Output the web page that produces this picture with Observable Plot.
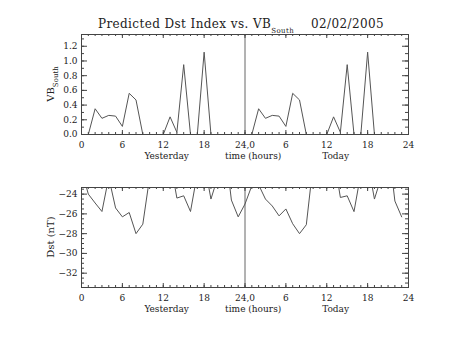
<!DOCTYPE html>
<html><head><meta charset="utf-8">
<script src="https://cdn.jsdelivr.net/npm/d3@7"></script>
<script src="https://cdn.jsdelivr.net/npm/@observablehq/plot@0.6"></script>
<style>
body{margin:0;background:#fff}
#chart{position:relative;width:453px;height:340px;overflow:hidden}
#chart svg{position:absolute;left:0}
</style></head><body><div id="chart"></div>
<script>
// ---- data ----
const hours = [0,1,2,3,4,5,6,7,8,9,10,11,12,13,14,15,16,17,18,19,20,21,22,23];
const vbYesterday = [0,0,0.35,0.22,0.26,0.25,0.11,0.56,0.47,0,0,0,0,0.24,0.03,0.95,0,0,1.12,0,0,0,0,0];
const vbToday     = [0,0,0.35,0.22,0.26,0.25,0.11,0.56,0.47,0,0,0,0,0.24,0.03,0.95,0,0,1.12,0,0,0,0,0];
const dstYesterday = [-21.5,-24.0,-24.9,-25.76,-22.3,-25.4,-26.3,-25.86,-28.0,-27.04,-22.3,-21.0,-21.0,-20.5,-24.4,-24.17,-25.76,-21.9,-20.7,-24.5,-22.3,-18.8,-24.6,-26.3];
const dstToday     = [-25.0,-23.15,-23.05,-24.5,-25.2,-26.2,-25.5,-27.0,-28.0,-27.1,-21.0,-21.0,-21.0,-20.1,-24.34,-24.17,-25.77,-21.9,-20.7,-24.5,-22.3,-18.8,-24.7,-26.3];
const xTickValues = [0,6,12,18,24,30,36,42,48];
const xTickLabels = ["0","6","12","18","24,0","6","12","18","24"];
const xTitleParts = ["Yesterday","time (hours)","Today"];
const xTitleAt = [12.5,25.2,37.3];
const vbTicks = [0,0.2,0.4,0.6,0.8,1.0,1.2];
const dstTicks = [-24,-26,-28,-30,-32];
const titleMain = "Predicted Dst Index vs. VB";
const titleSub = "South";
const titleDate = "02/02/2005";

const rows = [];
hours.forEach((h,i) => rows.push({t:h, vb:vbYesterday[i], dst:dstYesterday[i]}));
hours.forEach((h,i) => rows.push({t:h+24, vb:vbToday[i], dst:dstToday[i]}));

const FONT = "DejaVu Serif";
const W = 453, ML = 81, MR = 45;
const xMinor = d3.range(0, 49, 1);
const xMajor = xTickValues;
const lab = new Map(xTickValues.map((v,i)=>[v,xTickLabels[i]]));
const INK = "#222";

function ticksMarks(plotH, yMajor, yMinor) {
  const xMj = 4, xMn = 2, yMj = 6, yMn = 3;
  const plotW = W - ML - MR;
  return [
    Plot.tickX(xMinor, {x:d=>d, insetTop: plotH - xMn, stroke:"#444"}),
    Plot.tickX(xMinor, {x:d=>d, insetBottom: plotH - xMn, stroke:"#444"}),
    Plot.tickX(xMajor, {x:d=>d, insetTop: plotH - xMj, stroke:"#444"}),
    Plot.tickX(xMajor, {x:d=>d, insetBottom: plotH - xMj, stroke:"#444"}),
    Plot.tickY(yMinor, {y:d=>d, insetRight: plotW - yMn, stroke:"#444"}),
    Plot.tickY(yMinor, {y:d=>d, insetLeft: plotW - yMn, stroke:"#444"}),
    Plot.tickY(yMajor, {y:d=>d, insetRight: plotW - yMj, stroke:"#444"}),
    Plot.tickY(yMajor, {y:d=>d, insetLeft: plotW - yMj, stroke:"#444"})
  ];
}

function panel({H, MT, MB, yKey, yDomain, yMajor, yMinor, yFmt}) {
  const plotH = H - MT - MB;
  return Plot.plot({
    width: W, height: H,
    marginLeft: ML, marginRight: MR, marginTop: MT, marginBottom: MB,
    style: {fontFamily: FONT, fontSize: "9px", color:INK, background:"#fff", overflow:"visible"},
    x: {domain:[0,48]},
    y: {domain:yDomain},
    marks: [
      Plot.ruleX([24], {stroke:"#666", strokeWidth:1}),
      Plot.line(rows, {x:"t", y:yKey, stroke:"#555", strokeWidth:1, clip:true}),
      ...ticksMarks(plotH, yMajor, yMinor),
      Plot.frame({stroke:"#444"}),
      Plot.axisX(xTickValues, {anchor:"bottom", tickSize:0, tickPadding:7, tickFormat:d=>lab.get(d), label:null, fill:INK}),
      Plot.axisY(yMajor, {anchor:"left", tickSize:0, tickPadding:4, tickFormat:yFmt, label:null, fill:INK}),
      Plot.text(xTitleParts, {x:(d,i)=>xTitleAt[i], text:d=>d, frameAnchor:"bottom", dy:24, fill:INK, fontSize:"9px", letterSpacing:"0.4px"})
    ]
  });
}

const topSvg = panel({H:170, MT:34, MB:36, yKey:"vb", yDomain:[0,1.36],
  yMajor: vbTicks, yMinor: d3.range(0,1.35,0.1), yFmt: d3.format(".1f")});
const botSvg = panel({H:170, MT:17, MB:53, yKey:"dst", yDomain:[-33.45,-23.33],
  yMajor: dstTicks, yMinor: d3.range(-33,-23.4,0.5), yFmt: d=>"\u2212"+Math.abs(d)});

const chart = document.getElementById("chart");
topSvg.style.top = "0px"; botSvg.style.top = "170px";
chart.append(topSvg, botSvg);

// title
const ts = d3.select(topSvg);
const t = ts.append("text").attr("x", 241).attr("y", 28).attr("text-anchor","middle")
  .attr("font-family", FONT).attr("font-size", 12).attr("fill",INK)
  .style("white-space","pre").style("letter-spacing","0.4px");
t.append("tspan").text(titleMain);
t.append("tspan").attr("dy", 5).attr("font-size", 7).text(titleSub);
t.append("tspan").attr("dy", -5).text("    " + titleDate);

// y titles
const yl = ts.append("text").attr("transform","translate(53.5,84) rotate(-90)").attr("text-anchor","middle")
  .attr("font-family", FONT).attr("font-size", 10).attr("fill",INK);
yl.append("tspan").text("VB");
yl.append("tspan").attr("dy", 4).attr("font-size", 7).text("South");

d3.select(botSvg).append("text").attr("transform","translate(53.5,67) rotate(-90)").attr("text-anchor","middle")
  .attr("font-family", FONT).attr("font-size", 10).attr("fill",INK).text("Dst (nT)");
</script></body></html>
